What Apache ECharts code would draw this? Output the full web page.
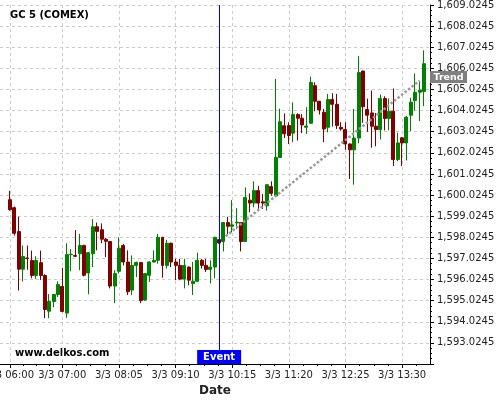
<!DOCTYPE html>
<html>
<head>
<meta charset="utf-8">
<script src="https://cdn.jsdelivr.net/npm/echarts@6/dist/echarts.min.js"></script>
<style>html,body{margin:0;padding:0;background:#fff}#c{width:500px;height:400px}</style>
</head>
<body>
<div id="c"></div>
<script>
// 5-minute bars, 3/3 06:00 .. 13:55
const startMinutes = 6 * 60;
const barCount = 96;
const times = [];
for (let i = 0; i < barCount; i++) {
  const m = startMinutes + 5 * i;
  times.push(String(Math.floor(m / 60)).padStart(2, '0') + ':' + String(m % 60).padStart(2, '0'));
}
const datePrefix = '3/3 ';

const openP = [1599.78,1599.40,1598.27,1596.49,1597.02,1596.90,1596.19,1596.80,1596.19,1594.50,
1594.96,1595.29,1595.67,1594.41,1597.18,1597.14,1597.22,1597.61,1596.31,1597.22,
1598.50,1598.36,1597.91,1597.80,1595.69,1596.39,1597.61,1596.83,1595.50,1596.67,
1596.81,1595.03,1596.20,1596.83,1596.91,1598.00,1596.67,1597.72,1596.83,1596.67,
1596.02,1596.59,1595.81,1595.92,1596.91,1596.67,1596.48,1596.59,1597.89,1597.80,
1598.70,1598.52,1598.68,1598.70,1597.80,1599.76,1599.62,1600.21,1599.68,1599.49,
1600.40,1599.97,1601.78,1603.28,1603.29,1602.93,1603.81,1603.64,1603.21,1603.40,
1605.18,1604.44,1603.92,1603.21,1604.52,1604.30,1603.21,1603.10,1602.42,1602.14,
1602.70,1605.87,1604.05,1603.89,1603.26,1603.10,1604.57,1603.63,1603.97,1601.68,
1602.71,1602.47,1603.78,1604.48,1604.87,1604.90];
const closeP = [1599.31,1598.19,1596.49,1597.09,1597.00,1596.19,1596.90,1596.19,1594.58,1594.96,
1595.29,1595.76,1594.49,1597.18,1597.20,1597.10,1597.61,1596.20,1597.27,1598.50,
1598.28,1597.91,1597.81,1595.69,1596.28,1597.48,1596.83,1595.42,1596.67,1596.81,
1595.00,1596.28,1596.83,1596.91,1598.00,1596.67,1597.72,1596.83,1596.67,1596.02,
1596.67,1595.97,1595.92,1596.91,1596.67,1596.48,1596.59,1598.00,1597.73,1598.70,
1598.52,1598.59,1598.72,1597.80,1599.89,1599.62,1600.21,1599.62,1599.62,1600.49,
1600.08,1601.79,1603.47,1602.90,1602.82,1603.81,1603.64,1603.32,1603.27,1605.33,
1604.44,1604.03,1603.13,1604.52,1604.30,1603.29,1603.13,1602.42,1602.14,1602.70,
1605.80,1604.18,1603.78,1603.26,1603.10,1604.57,1603.63,1603.97,1601.68,1602.47,
1602.47,1603.69,1604.40,1604.87,1604.97,1606.22];
const lowP = [1599.26,1598.08,1595.48,1595.91,1596.46,1596.06,1596.03,1595.98,1594.17,1594.17,
1594.69,1595.17,1594.45,1594.19,1596.39,1597.06,1596.44,1596.15,1595.30,1596.59,
1597.38,1597.72,1597.06,1595.58,1594.88,1596.28,1596.67,1595.27,1595.27,1596.12,
1594.88,1595.00,1595.89,1596.80,1596.75,1596.09,1596.52,1596.59,1595.97,1595.97,
1595.58,1595.73,1595.27,1595.90,1596.52,1596.36,1595.81,1596.05,1597.70,1597.33,
1598.15,1598.23,1598.39,1597.33,1597.78,1599.18,1599.42,1599.34,1599.34,1599.26,
1599.97,1599.95,1601.75,1602.70,1602.42,1602.50,1602.58,1602.93,1602.89,1603.37,
1603.97,1603.81,1602.50,1602.97,1603.24,1603.13,1603.05,1602.14,1600.76,1600.49,
1602.45,1603.42,1602.99,1602.24,1602.31,1602.63,1603.06,1603.06,1601.37,1601.60,
1601.37,1601.64,1603.03,1604.00,1603.50,1604.21];
const highP = [1600.20,1599.46,1598.98,1597.61,1597.61,1597.37,1597.10,1597.37,1596.25,1595.32,
1595.32,1595.91,1596.55,1597.72,1597.45,1598.34,1598.16,1597.65,1597.30,1598.86,
1598.70,1598.66,1597.97,1597.82,1596.44,1598.00,1597.69,1597.38,1597.14,1596.85,
1596.83,1596.31,1596.86,1597.38,1598.16,1598.02,1597.88,1597.75,1596.98,1596.98,
1596.98,1596.62,1596.83,1597.27,1596.98,1596.98,1596.91,1598.02,1597.92,1598.72,
1598.97,1599.76,1599.38,1598.72,1600.36,1600.08,1600.65,1600.44,1600.05,1600.52,
1600.65,1605.50,1604.09,1603.87,1603.45,1604.39,1603.87,1603.84,1604.16,1605.61,
1605.34,1604.46,1604.08,1604.79,1604.82,1604.79,1603.45,1603.45,1602.45,1604.08,
1606.58,1605.90,1604.57,1604.95,1603.89,1604.76,1604.68,1604.57,1605.05,1602.95,
1602.74,1603.74,1604.61,1605.76,1605.39,1606.85];

const xTickIdx = [0, 12, 25, 38, 51, 64, 77, 90];
const eventIdx = 48;
const trendStart = [49.5, 1598.05];
const trendEnd = [94, 1605.42];
const labelFraction = 0.0245;

const xMin = -2.3, xMax = 96.4;
const yMin = 1592, yMax = 1609;

// minor x ticks at quarters between the labelled ticks
const xMinor = [];
for (let k = 0; k < xTickIdx.length - 1; k++) {
  const a = xTickIdx[k], b = xTickIdx[k + 1];
  for (let q = 1; q < 4; q++) xMinor.push(a + (b - a) * q / 4);
}
xMinor.push(xTickIdx[xTickIdx.length - 1] + 13 / 4);

const candles = openP.map((o, i) => [i, o, closeP[i], lowP[i], highP[i]]);
const FONT = 'DejaVu Sans';

const chart = echarts.init(document.getElementById('c'), null, {renderer: 'canvas'});
chart.setOption({
  animation: false,
  backgroundColor: '#ffffff',
  title: {
    text: 'GC 5 (COMEX)', left: 10, top: 10, padding: 0,
    textStyle: {fontFamily: FONT, fontSize: 10, fontWeight: 'bold', color: '#000'}
  },
  graphic: [{
    type: 'text', left: 15, top: 348,
    style: {text: 'www.delkos.com', fontFamily: FONT, fontSize: 10, fontWeight: 'bold', fill: '#000'}
  }],
  grid: {left: 0, right: 70, top: 5, bottom: 36, containLabel: false, outerBoundsMode: 'none'},
  xAxis: [{
    type: 'value', min: xMin, max: xMax,
    name: 'Date', nameLocation: 'middle', nameGap: 19,
    nameTextStyle: {fontFamily: FONT, fontSize: 12, fontWeight: 'bold', color: '#222'},
    axisLine: {show: true, onZero: false, lineStyle: {color: '#000', width: 1}},
    axisTick: {show: true, inside: false, length: 4, customValues: xTickIdx, lineStyle: {color: '#000'}},
    axisLabel: {
      show: true, customValues: xTickIdx, margin: 6,
      fontFamily: FONT, fontSize: 10, color: '#222',
      formatter: v => datePrefix + times[Math.round(v)]
    },
    splitLine: {show: true, lineStyle: {color: '#cccccc', type: [3, 3], width: 1}}
  }, {
    type: 'value', min: xMin, max: xMax, position: 'bottom', gridIndex: 0,
    axisLine: {show: false},
    axisTick: {show: true, inside: false, length: 2, customValues: xMinor, lineStyle: {color: '#000'}},
    axisLabel: {show: false},
    splitLine: {show: false}
  }],
  yAxis: {
    type: 'value', position: 'right', min: yMin, max: yMax, interval: 1,
    axisLine: {show: true, onZero: false, lineStyle: {color: '#000', width: 1}},
    axisTick: {show: true, inside: false, length: 4, lineStyle: {color: '#000'}},
    minorTick: {show: true, splitNumber: 4, length: 2, lineStyle: {color: '#000'}},
    axisLabel: {
      margin: 7, fontFamily: FONT, fontSize: 10, color: '#222',
      formatter: v => (v === yMin || Math.abs(v - Math.round(v)) > 1e-6) ? '' :
        (v + labelFraction).toLocaleString('en-US', {minimumFractionDigits: 4, maximumFractionDigits: 4})
    },
    splitLine: {show: true, lineStyle: {color: '#cccccc', type: [3, 3], width: 1}}
  },
  series: [{
    type: 'candlestick',
    xAxisIndex: 0,
    data: candles,
    encode: {x: 0, y: [1, 2, 3, 4]},
    barWidth: '78%',
    itemStyle: {color: '#008000', color0: '#800000', borderColor: '#008000', borderColor0: '#800000', borderWidth: 1},
    emphasis: {disabled: true},
    markLine: {
      silent: true, symbol: ['none', 'none'], animation: false,
      label: {show: false},
      data: [
        {xAxis: eventIdx, lineStyle: {color: '#0000ff', width: 1, type: 'solid'}},
        [{coord: trendStart, lineStyle: {color: '#999999', width: 2.5, type: [2.5, 2]}}, {coord: trendEnd}]
      ]
    },
    markPoint: {
      silent: true, animation: false,
      data: [{
        coord: [eventIdx, yMin], symbol: 'rect', symbolSize: [44, 14], symbolOffset: [0, -7],
        itemStyle: {color: '#0000ff'},
        label: {show: true, position: 'inside', formatter: 'Event', fontFamily: FONT, fontSize: 10, fontWeight: 'bold', color: '#fff'}
      }, {
        coord: trendEnd, symbol: 'rect', symbolSize: [37, 12], symbolOffset: [29, -3.5],
        itemStyle: {color: '#808080'},
        label: {show: true, position: 'inside', formatter: 'Trend', fontFamily: FONT, fontSize: 9.5, fontWeight: 'bold', color: '#fff'}
      }]
    }
  }]
});
</script>
</body>
</html>
